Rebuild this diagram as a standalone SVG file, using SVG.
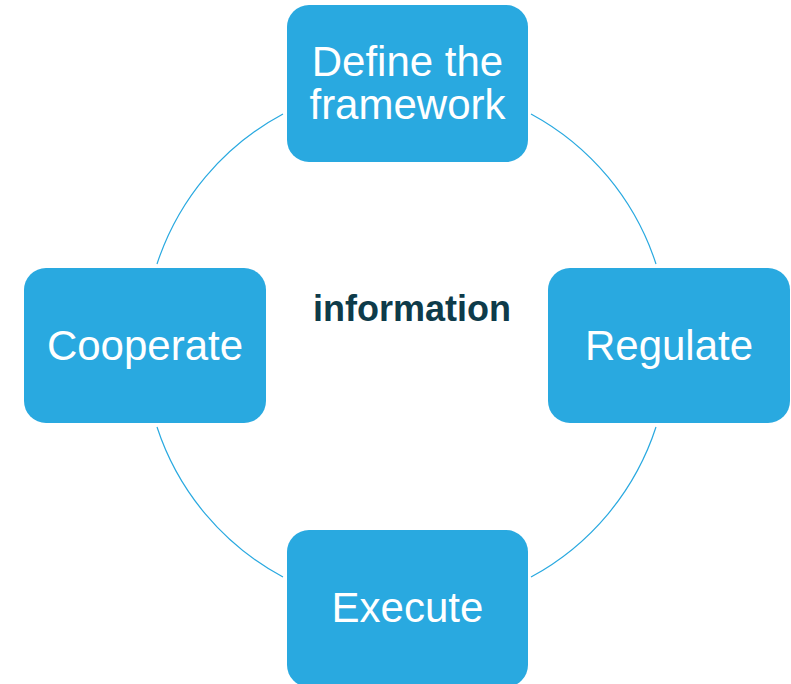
<svg xmlns="http://www.w3.org/2000/svg" width="791" height="684" viewBox="0 0 791 684">
<style>
.box{fill:#29a9e0;}
.lbl{font-family:"Liberation Sans",Arial,sans-serif;font-size:42px;fill:#ffffff;text-anchor:middle;}
.arc{fill:none;stroke:#29a9e0;stroke-width:1.2;}
.center{font-family:"Liberation Sans",Arial,sans-serif;font-size:36px;font-weight:bold;fill:#0e3b4a;text-anchor:middle;}
</style>
<rect width="791" height="684" fill="#ffffff"/>
<g id="connectors">
<path class="arc" d="M157,264 A263,263 0 0 1 283,114"/>
<path class="arc" d="M531,114 A263,263 0 0 1 656,264"/>
<path class="arc" d="M656,427 A263,263 0 0 1 531,577"/>
<path class="arc" d="M283,577 A263,263 0 0 1 157,427"/>
</g>
<g id="center-label">
<text class="center" x="412" y="321">information</text>
</g>
<g id="node-define">
<rect class="box" x="287" y="5" width="241" height="157" rx="22"/>
<text class="lbl" x="407.5" y="76">Define the</text>
<text class="lbl" x="407.5" y="119">framework</text>
</g>
<g id="node-cooperate">
<rect class="box" x="24" y="268" width="242" height="155" rx="22"/>
<text class="lbl" x="145" y="360">Cooperate</text>
</g>
<g id="node-regulate">
<rect class="box" x="548" y="268" width="242" height="155" rx="22"/>
<text class="lbl" x="669" y="360">Regulate</text>
</g>
<g id="node-execute">
<rect class="box" x="287" y="530" width="241" height="157" rx="22"/>
<text class="lbl" x="407.5" y="622">Execute</text>
</g>
</svg>
